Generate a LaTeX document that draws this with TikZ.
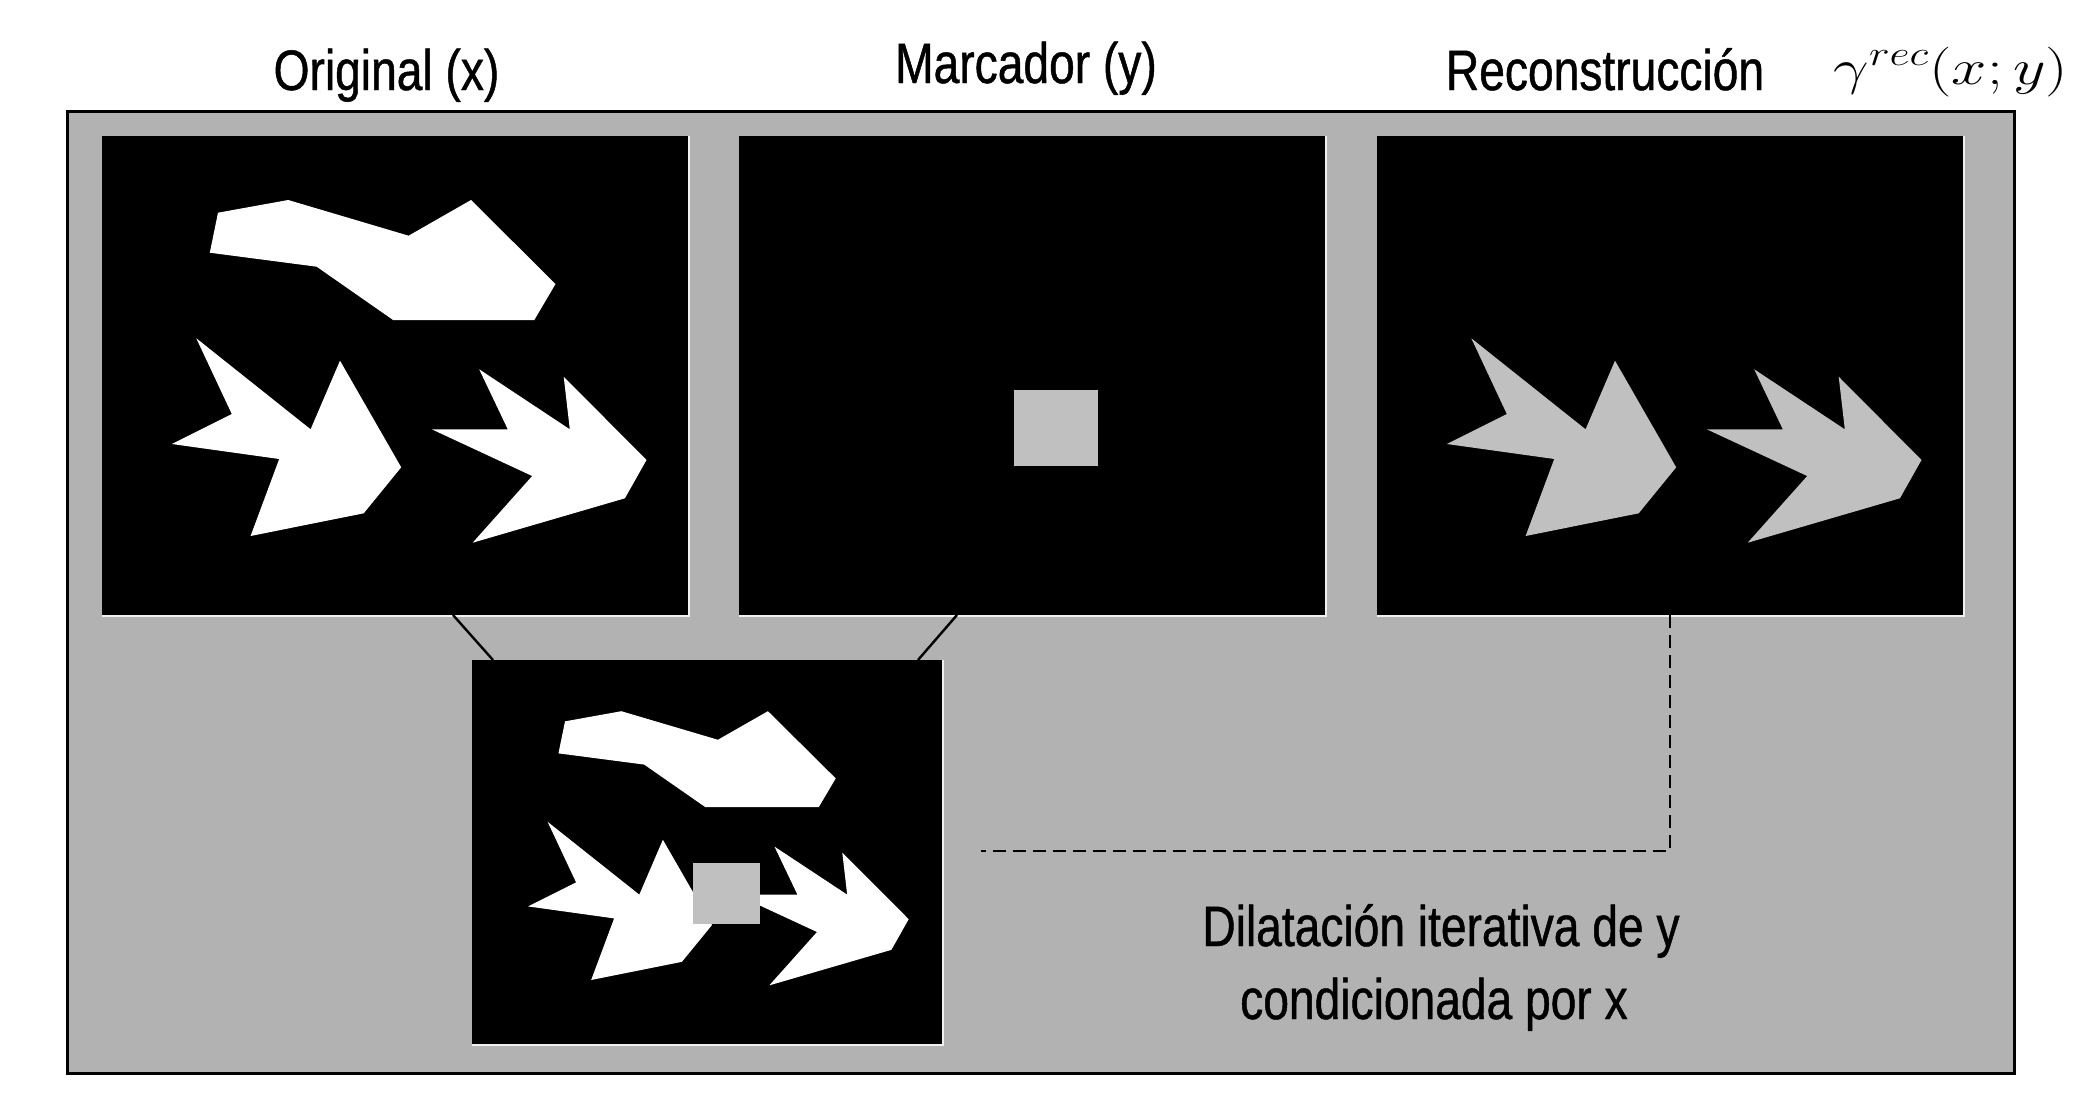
\documentclass[tikz,border=0pt]{standalone}
\usepackage[no-math]{fontspec}
\setmainfont{Liberation Sans}[FakeStretch=0.81,FakeBold=0.8]
\usepackage{amsmath}
\usetikzlibrary{calc}
\definecolor{framegray}{RGB}{178,178,178}
\definecolor{shapegray}{RGB}{192,192,192}
\definecolor{edgewhite}{RGB}{240,240,240}
\tikzset{
  panelbox/.style={fill=black,inner sep=0pt,outer sep=0pt,minimum width=293pt,minimum height=239.5pt},
  smallpanel/.style={fill=black,inner sep=0pt,outer sep=0pt,minimum width=235pt,minimum height=192pt},
  framebox/.style={draw=black,fill=framegray,line width=1.5pt,inner sep=0pt,minimum width=973.5pt,minimum height=481pt},
  titletext/.style={inner sep=0pt,anchor=base,font=\fontsize{28.5}{34}\selectfont},
  connector/.style={draw=black,line width=1.2pt},
  dashlink/.style={draw=black,line width=1.4pt,dash pattern=on 6.5pt off 3.5pt},
  edgeline/.style={draw=edgewhite,line width=1pt}
}
\newcommand{\cloudshape}{(116,76.7) -- (186.2,64) -- (306.6,99.7) -- (369,64) -- (453.5,148) -- (432.3,184) -- (291.1,184) -- (214.7,130.7) -- (107.8,116.7) -- cycle}
\newcommand{\leftarrowshape}{(94.3,202.3) -- (208.6,293.3) -- (238,224.7) -- (299.2,331.3) -- (261.7,377.3) -- (148.6,400) -- (177.2,323) -- (69.8,308) -- (129.8,278) -- cycle}
\newcommand{\rightarrowshape}{(377.2,233.3) -- (467.8,293.3) -- (461.7,240.7) -- (544.5,324) -- (522.9,362.3) -- (370.7,406.7) -- (430.2,340) -- (329.8,293.3) -- (405.8,293.3) -- cycle}
\newcommand{\markershape}{(275,254) rectangle (359,330)}
\begin{document}
\begin{tikzpicture}[x=0.5pt,y=-0.5pt]
\useasboundingbox (0,0) rectangle (2100,1114);
% titles
\node[titletext] (t1) at (386.5,90) {Original (x)};
\node[titletext] (t2) at (1026,83) {Marcador (y)};
\node[titletext] (t3) at (1605,90) {Reconstrucción};
\node[inner sep=0pt,anchor=base west] (t4) at (1833,84) {\resizebox{117.5pt}{\height}{\fontsize{27}{31}\selectfont$\gamma^{rec}(x;y)$}};
% outer frame
\node[framebox] (frame) at (1040.5,592) {};
% panels
\node[panelbox] (p1) at (395,375.5) {};
\node[panelbox] (p2) at (1032,375.5) {};
\node[panelbox] (p3) at (1670,375.5) {};
\node[smallpanel] (p4) at (707,852) {};
\foreach \p in {p1,p2,p3,p4}{
  \draw[edgeline] ([xshift=0.5pt]\p.north east) -- ([xshift=0.5pt,yshift=-0.5pt]\p.south east) -- ([yshift=-0.5pt]\p.south west);
}
% panel 1 contents
\begin{scope}[shift={(102,136)}]
  \fill[white] \cloudshape;
  \fill[white] \leftarrowshape;
  \fill[white] \rightarrowshape;
\end{scope}
% panel 2 contents
\begin{scope}[shift={(739,136)}]
  \fill[shapegray] \markershape;
\end{scope}
% panel 3 contents
\begin{scope}[shift={(1377,136)}]
  \fill[shapegray] \leftarrowshape;
  \fill[shapegray] \rightarrowshape;
\end{scope}
% bottom panel contents
\begin{scope}[shift={(472,660)},xscale=0.802,yscale=0.8]
  \fill[white] \cloudshape;
  \fill[white] \leftarrowshape;
  \fill[white] \rightarrowshape;
  \fill[shapegray] \markershape;
\end{scope}
% connectors
\coordinate (c1a) at (453,615);
\coordinate (c1b) at (493,660);
\coordinate (c2a) at (957,615);
\coordinate (c2b) at (918,660);
\draw[connector] (c1a) -- (c1b);
\draw[connector] (c2a) -- (c2b);
\coordinate (dend) at (981,851);
\draw[dashlink] (p3.south) |- (dend);
% bottom text
\node[titletext] (l1) at (1441,946) {Dilatación iterativa de y};
\node[titletext] (l2) at (1434,1019) {condicionada por x};
\end{tikzpicture}
\end{document}
